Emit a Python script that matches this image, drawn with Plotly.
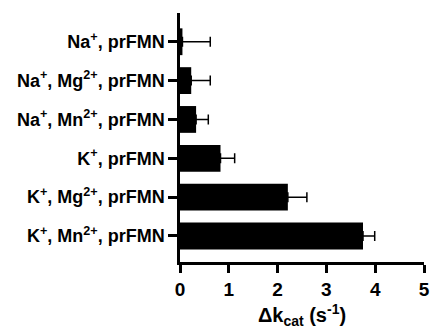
import plotly.graph_objects as go

categories = ["K<sup>+</sup>, Mn<sup>2+</sup>, prFMN",
              "K<sup>+</sup>, Mg<sup>2+</sup>, prFMN",
              "K<sup>+</sup>, prFMN",
              "Na<sup>+</sup>, Mn<sup>2+</sup>, prFMN",
              "Na<sup>+</sup>, Mg<sup>2+</sup>, prFMN",
              "Na<sup>+</sup>, prFMN"]
values = [3.75, 2.21, 0.83, 0.33, 0.23, 0.05]
errors = [0.24, 0.39, 0.29, 0.25, 0.39, 0.57]
x_ticks = [0, 1, 2, 3, 4, 5]

fig = go.Figure(go.Bar(
    x=values, y=categories, orientation="h",
    marker=dict(color="black", line=dict(width=0)),
    width=0.69,
    error_x=dict(type="data", array=errors, symmetric=False, arrayminus=[0]*6,
                 color="black", thickness=1.5, width=5),
))

font = "Liberation Sans, Arial, sans-serif"
fig.update_layout(
    width=436, height=330,
    margin=dict(l=180, r=6, t=13, b=67),
    plot_bgcolor="white", paper_bgcolor="white",
    showlegend=False,
    font=dict(family=font, color="black", size=18),
    xaxis=dict(range=[0, 5], tickvals=x_ticks, showgrid=False, zeroline=False,
               showline=True, linecolor="black", linewidth=2.5,
               ticks="outside", ticklen=8, tickwidth=2.5, tickcolor="black",
               tickfont=dict(size=19, family=font, weight="bold"),
               title=dict(text="<b>Δk<sub>cat</sub> (s<sup>-1</sup>)</b>",
                          font=dict(size=20, family=font), standoff=10)),
    yaxis=dict(range=[-0.67, 5.74], showgrid=False, zeroline=False,
               showline=True, linecolor="black", linewidth=2.5,
               ticks="outside", ticklen=9, tickwidth=2.5, tickcolor="black",
               tickfont=dict(size=18, family=font, weight="bold")),
)

fig.write_html("out.html")
